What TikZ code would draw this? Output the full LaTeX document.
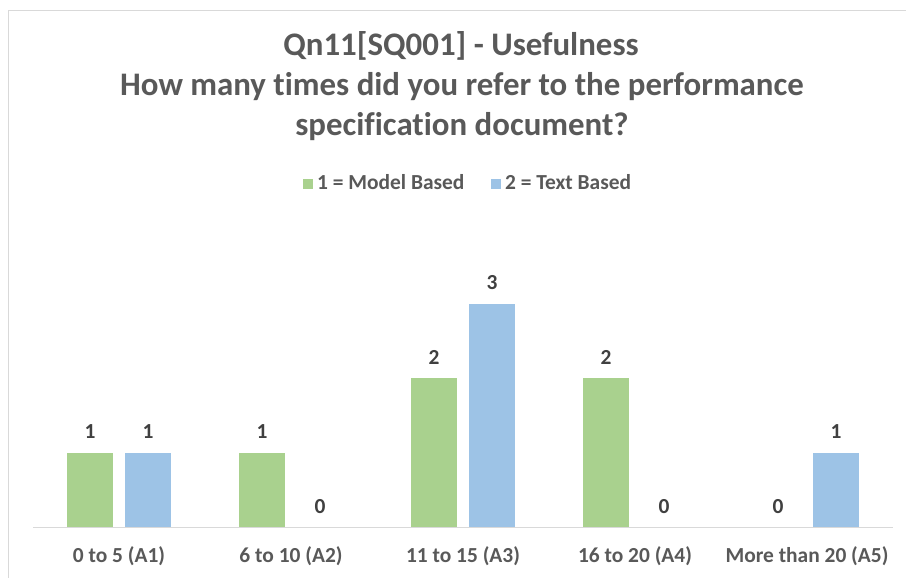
\documentclass[tikz,border=0pt]{standalone}
\usepackage{fontspec}
\setmainfont[Ligatures=NoCommon]{Carlito}
\definecolor{modelgreen}{HTML}{A9D18E}
\definecolor{textblue}{HTML}{9DC3E6}
\definecolor{labelgray}{HTML}{595959}
\definecolor{valuegray}{HTML}{404040}
\definecolor{rulegray}{HTML}{D9D9D9}
\tikzset{
  titletext/.style={font=\bfseries\fontsize{33}{40}\selectfont, text=labelgray, anchor=base, inner sep=0pt},
  cattext/.style={font=\bfseries\fontsize{21.5}{26}\selectfont, text=labelgray, anchor=base, inner sep=0pt},
  legtext/.style={font=\bfseries\fontsize{21.5}{26}\selectfont, text=labelgray, anchor=base west, inner sep=0pt},
  valtext/.style={font=\bfseries\fontsize{21.5}{26}\selectfont, text=valuegray, anchor=base, inner sep=0pt},
  greenbar/.style={fill=modelgreen, draw=none},
  bluebar/.style={fill=textblue, draw=none},
}
\begin{document}
\begin{tikzpicture}[x=1bp, y=-1bp]
  \useasboundingbox (0,0) rectangle (906,578);
  \fill[white] (0,0) rectangle (906,578);
  % chart frame (top and left edges)
  \draw[rulegray, line width=1.5bp] (8.5,578) -- (8.5,10.5) -- (906,10.5);

  % title
  \node[titletext] (t1) at (461,56) {Qn11[SQ001] - Usefulness};
  \node[titletext] (t2) at (462,96) {How many times did you refer to the performance};
  \node[titletext] (t3) at (462,135.5) {specification document?};

  % legend
  \fill[modelgreen] (303,179) rectangle (313,189);
  \node[legtext] (l1) at (317,190) {1 = Model Based};
  \fill[textblue] (491,179) rectangle (501,189);
  \node[legtext] (l2) at (505,190) {2 = Text Based};

  % bars: baseline 527, 74.5 per unit, width 46
  \foreach \c/\g/\b [count=\i] in {119/1/1, 291/1/0, 463/2/3, 635/2/0, 807/0/1} {
    \pgfmathsetmacro{\gx}{\c-29}
    \pgfmathsetmacro{\bx}{\c+29}
    \pgfmathsetmacro{\gt}{527-74.5*\g}
    \pgfmathsetmacro{\bt}{527-74.5*\b}
    \ifnum\g>0 \fill[greenbar] (\gx-23,527) rectangle (\gx+23,\gt); \fi
    \ifnum\b>0 \fill[bluebar] (\bx-23,527) rectangle (\bx+23,\bt); \fi
    \node[valtext] (g\i) at (\gx,\gt-14) {\g};
    \node[valtext] (b\i) at (\bx,\bt-14) {\b};
  }

  % category axis
  \draw[rulegray, line width=1.5bp] (33,527.5) -- (893,527.5);
  \node[cattext] (c1) at (119,562) {0 to 5 (A1)};
  \node[cattext] (c2) at (291,562) {6 to 10 (A2)};
  \node[cattext] (c3) at (463,562) {11 to 15 (A3)};
  \node[cattext] (c4) at (635,562) {16 to 20 (A4)};
  \node[cattext] (c5) at (807,562) {More than 20 (A5)};
\end{tikzpicture}
\end{document}
